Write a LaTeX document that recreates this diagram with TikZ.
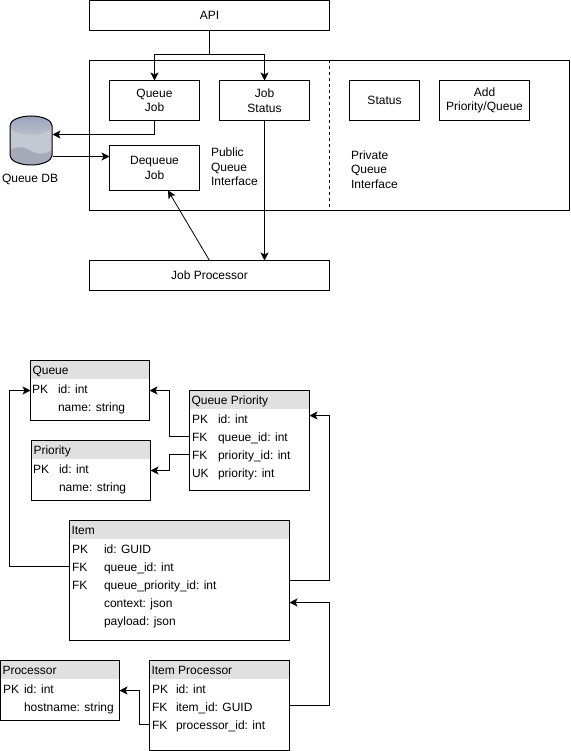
\documentclass[tikz,border=0pt]{standalone}
\usepackage{fontspec}
\setmainfont{Liberation Sans}
\usetikzlibrary{arrows.meta,calc}
\definecolor{hdr}{HTML}{E0E0E0}
\definecolor{dbbody}{HTML}{C4C8D2}
\definecolor{dbbase}{HTML}{A6A9B8}
\definecolor{dbtopa}{HTML}{9CA4BA}
\definecolor{dbtopb}{HTML}{BABECC}
\tikzset{
  box/.style={draw=black,line width=1pt,fill=white,anchor=north west,inner sep=0pt,outer sep=0pt,align=center,font=\fontsize{12}{14.5}\selectfont},
  lbl/.style={inner sep=0pt,outer sep=0pt,anchor=west,font=\fontsize{12}{14.5}\selectfont,align=left},
  cell/.style={inner sep=0pt,outer sep=0pt,anchor=base west,font=\fontsize{12}{14}\selectfont},
  conn/.style={line width=1pt,-{Stealth[length=8pt,width=8pt,inset=2pt]}},
  thinconn/.style={line width=.8pt,-{Stealth[length=8pt,width=8pt,inset=2pt]}}
}
% \mkbox{name}{x}{y}{w}{h}{text}
\newcommand{\mkbox}[6]{\node[box,minimum width=#4pt,minimum height=#5pt] (#1) at (#2,#3) {#6};}
% \mktable{name}{x}{y}{w}{h}{title}
\newcommand{\mktable}[6]{%
  \node[box,minimum width=#4pt,minimum height=#5pt] (#1) at (#2,#3) {};
  \fill[hdr] ($(#1.north west)+(.5,.5)$) rectangle ($(#1.north east)+(-.5,18.5)$);
  \node[cell] (#1h) at ($(#1.north west)+(2,13.5)$) {#6};
}
\newcommand{\mkcell}[4]{\node[cell] (#1) at (#2,#3) {#4};}
\begin{document}
\begin{tikzpicture}[x=1pt,y=-1pt]
\useasboundingbox[fill=white] (0,0) rectangle (570,751);
% top diagram
\mkbox{api}{89.5}{0.5}{240}{30}{API}
\mkbox{iface}{89.5}{60.5}{480}{150}{}
\coordinate (divt) at (329.5,60.5);
\coordinate (divb) at (329.5,210.5);
\draw[line width=1pt,dash pattern=on 3pt off 3pt] (divt) -- (divb);
\mkbox{qj}{109.5}{80.5}{90}{40}{Queue\\Job}
\mkbox{js}{219.5}{80.5}{90}{40}{Job\\Status}
\mkbox{st}{349.5}{80.5}{70}{40}{Status}
\mkbox{ap}{439.5}{80.5}{90}{40}{Add\\Priority/Queue}
\mkbox{dq}{109.5}{145.5}{90}{45}{Dequeue\\Job}
\mkbox{jp}{89.5}{260.5}{240}{30}{Job Processor}
\node[lbl] (pub) at (211,167) {Public\\Queue\\Interface};
\node[lbl] (priv) at (351,169.5) {Private\\Queue\\Interface};
% database
\fill[dbbody] (10,125.5) -- (10,155.5) .. controls (10,160.7) and (19.4,165) .. (31,165) .. controls (42.6,165) and (52,160.7) .. (52,155.5) -- (52,125.5) -- cycle;
\fill[dbbase] (10,150) .. controls (18,145) and (27,148) .. (32,151.5) .. controls (38,155) and (46,154) .. (52,150.5) -- (52,155.5) .. controls (52,160.7) and (42.6,165) .. (31,165) .. controls (19.4,165) and (10,160.7) .. (10,155.5) -- cycle;
\shade[top color=dbtopa,bottom color=dbtopb] (10,125.5) .. controls (10,120.3) and (19.4,116) .. (31,116) .. controls (42.6,116) and (52,120.3) .. (52,125.5) .. controls (52,130.7) and (42.6,135) .. (31,135) .. controls (19.4,135) and (10,130.7) .. (10,125.5) -- cycle;
\node[minimum width=42pt,minimum height=49pt,inner sep=0pt,outer sep=0pt] (db) at (31,140.5) {};
\draw[line width=1pt] (10,125.5) .. controls (10,120.3) and (19.4,116) .. (31,116) .. controls (42.6,116) and (52,120.3) .. (52,125.5) -- (52,155.5) .. controls (52,160.7) and (42.6,165) .. (31,165) .. controls (19.4,165) and (10,160.7) .. (10,155.5) -- cycle;
\node[lbl] (dblabel) at (2,179) {Queue DB};
% connectors top
\coordinate (apib) at (api.south);
\coordinate (mid) at (209.5,54.5);
\draw[line width=1pt] (apib) -- (mid);
\draw[conn] (mid) -| (qj.north);
\draw[conn] (mid) -| (js.north);
\draw[conn] (js.south) -- (js.south |- jp.north);
\coordinate (dbin) at (52.5,134.5);
\coordinate (dbout) at (52.5,156.5);
\draw[conn] (qj.south) |- (dbin);
\draw[conn] (dbout) -- (dbout -| dq.west);
\coordinate (jpt) at (209.5,260.5);
\coordinate (dqb) at (168,190.5);
\draw[thinconn] (jpt) -- (dqb);
% tables
\mktable{tq}{30.5}{360.5}{119}{60}{Queue}
\mkcell{q1}{32}{393.5}{PK}\mkcell{q2}{58}{393.5}{id: int}\mkcell{q3}{58}{411.5}{name: string}
\mktable{tp}{31.5}{440.5}{119}{60}{Priority}
\mkcell{p1}{33}{473.5}{PK}\mkcell{p2}{59}{473.5}{id: int}\mkcell{p3}{59}{491.5}{name: string}
\mktable{tqp}{189.5}{390.5}{120}{100}{Queue Priority}
\mkcell{a1}{192}{423.5}{PK}\mkcell{a2}{218}{423.5}{id: int}
\mkcell{a3}{192}{441.5}{FK}\mkcell{a4}{218}{441.5}{queue\_id: int}
\mkcell{a5}{192}{459.5}{FK}\mkcell{a6}{218}{459.5}{priority\_id: int}
\mkcell{a7}{192}{477.5}{UK}\mkcell{a8}{218}{477.5}{priority: int}
\mktable{ti}{69.5}{520.5}{220}{120}{Item}
\mkcell{b1}{72}{553.5}{PK}\mkcell{b2}{104}{553.5}{id: GUID}
\mkcell{b3}{72}{571.5}{FK}\mkcell{b4}{104}{571.5}{queue\_id: int}
\mkcell{b5}{72}{589.5}{FK}\mkcell{b6}{104}{589.5}{queue\_priority\_id: int}
\mkcell{b7}{104}{607.5}{context: json}
\mkcell{b8}{104}{625.5}{payload: json}
\mktable{tr}{0.5}{660.5}{119}{60}{Processor}
\mkcell{c1}{3}{693.5}{PK}\mkcell{c2}{24}{693.5}{id: int}\mkcell{c3}{24}{711.5}{hostname: string}
\mktable{tip}{149.5}{660.5}{140}{90}{Item Processor}
\mkcell{d1}{152}{693.5}{PK}\mkcell{d2}{176}{693.5}{id: int}
\mkcell{d3}{152}{711.5}{FK}\mkcell{d4}{176}{711.5}{item\_id: GUID}
\mkcell{d5}{152}{729.5}{FK}\mkcell{d6}{176}{729.5}{processor\_id: int}
% connectors bottom
\draw[conn] (ti.west |- 0,566.5) -- (9.5,566.5) |- (tq.west |- 0,390.5);
\draw[conn] (ti.east |- 0,580.5) -- (329.5,580.5) |- (tqp.east |- 0,415.5);
\draw[conn] (tip.east |- 0,705.5) -- (329.5,705.5) |- (ti.east |- 0,602.5);
\draw[conn] (tqp.west |- 0,436.5) -- (169.5,436.5) |- (tq.east |- 0,390.5);
\draw[conn] (tqp.west |- 0,454.5) -- (169.5,454.5) |- (tp.east |- 0,470.5);
\draw[conn] (tip.west |- 0,724.5) -- (139.5,724.5) |- (tr.east |- 0,690.5);
\end{tikzpicture}
\end{document}
